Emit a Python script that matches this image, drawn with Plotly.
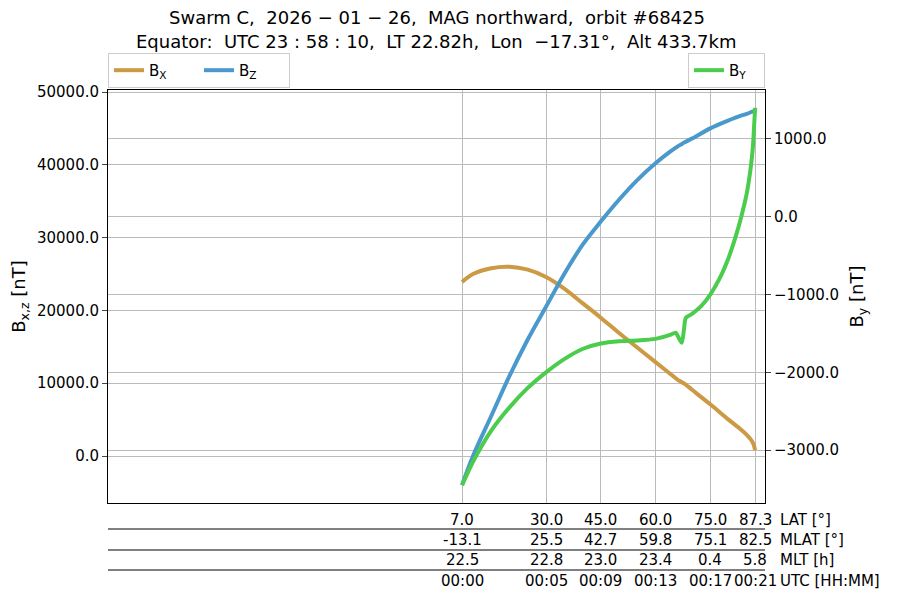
import plotly.graph_objects as go

# orbit samples (latitude in degrees)
lat = [7.0, 10, 15, 20, 25, 30, 35, 40, 45, 50, 55, 60, 64, 66, 67, 68, 70, 75, 80, 83, 85, 86.5, 87.0, 87.3]
bx = [23900, 25000, 25800, 26000, 25600, 24600, 23000, 21000, 19000, 16900, 14900, 12900, 11300, 10500, 10200, 9900, 9100, 7100, 5000, 3800, 2900, 2000, 1400, 800]
bz = [-4000, 0, 5500, 11000, 16000, 20500, 25000, 29000, 32200, 35200, 37900, 40200, 41800, 42500, 42800, 43100, 43600, 45000, 46100, 46700, 47000, 47300, 47400, 47500]
by_lat = [7.0, 10, 15, 20, 25, 30, 35, 40, 45, 50, 55, 60, 64, 65.5, 66.5, 67.2, 67.8, 68.3, 70, 72.5, 75, 77.5, 80, 82, 83.5, 85, 86, 86.7, 87.0, 87.3]
by = [-3450, -3150, -2750, -2450, -2200, -2000, -1830, -1700, -1630, -1600, -1590, -1570, -1520, -1490, -1570, -1620, -1450, -1300, -1250, -1150, -1000, -800, -530, -250, 0, 300, 600, 900, 1150, 1400]

# table below the plot
tick_lat = [7.0, 30.0, 45.0, 60.0, 75.0, 87.3]
mlat = ["-13.1", "25.5", "42.7", "59.8", "75.1", "82.5"]
mlt = ["22.5", "22.8", "23.0", "23.4", "0.4", "5.8"]
utc = ["00:00", "00:05", "00:09", "00:13", "00:17", "00:21"]
row_names = ["LAT [°]", "MLAT [°]", "MLT [h]", "UTC [HH:MM]"]

fig = go.Figure()
fig.add_trace(go.Scatter(x=lat, y=bx, name="B<sub>X</sub>", line=dict(color="#cc9944", width=4, shape="spline"), legend="legend"))
fig.add_trace(go.Scatter(x=lat, y=bz, name="B<sub>Z</sub>", line=dict(color="#4a99cc", width=4, shape="spline"), legend="legend"))
fig.add_trace(go.Scatter(x=by_lat, y=by, name="B<sub>Y</sub>", yaxis="y2", line=dict(color="#4ccc4c", width=4, shape="spline", smoothing=0.6), legend="legend2"))

font = dict(family="DejaVu Sans", size=15, color="black")
fig.update_layout(
    width=900, height=600, template="none", font=font,
    margin=dict(l=100, r=143, t=82, b=105),
    plot_bgcolor="white", paper_bgcolor="white",
    xaxis=dict(range=[-90, 90], tickvals=tick_lat, showticklabels=False, showgrid=True, gridcolor="#bbbbbb",
               showline=True, linecolor="black", mirror=True, zeroline=False, ticks="", automargin=False),
    yaxis=dict(range=[-6456, 50275], tickvals=[0, 10000, 20000, 30000, 40000, 50000], tickformat=".1f",
               title=dict(text="B<sub>x,z</sub> [nT]", standoff=12), showgrid=True, gridcolor="#bbbbbb",
               zeroline=False, ticks="outside", showline=True, linecolor="black", automargin=False),
    yaxis2=dict(range=[-3679, 1628], overlaying="y", side="right", tickvals=[-3000, -2000, -1000, 0, 1000],
                tickformat=".1f", title=dict(text="B<sub>y</sub> [nT]", standoff=12), showgrid=True, gridcolor="#bbbbbb",
                zeroline=False, ticks="outside", showline=True, linecolor="black", automargin=False),
    legend=dict(x=0.0, y=1.005, xanchor="left", yanchor="bottom", orientation="h", bordercolor="#cccccc", borderwidth=1,
                entrywidth=45, entrywidthmode="pixels", font=dict(size=15)),
    legend2=dict(x=1.0, y=1.005, xanchor="right", yanchor="bottom", orientation="h", bordercolor="#cccccc", borderwidth=1,
                 entrywidth=30, entrywidthmode="pixels", font=dict(size=15)),
)

title_lines = ["Swarm C,  2026 − 01 − 26,  MAG northward,  orbit #68425",
               "Equator:  UTC 23 : 58 : 10,  LT 22.82h,  Lon  −17.31°,  Alt 433.7km"]
for i, t in enumerate(title_lines):
    fig.add_annotation(x=0.5, y=1.0 + (85 - 24 * i) / 413, xref="paper", yref="paper", text=t, showarrow=False,
                       font=dict(family="DejaVu Sans", size=18, color="black"))

rows = [[f"{v:.1f}" for v in tick_lat], mlat, mlt, utc]
row_px = [531, 551, 571, 592]
for r, (vals, ypx) in enumerate(zip(rows, row_px)):
    yy = -(ypx - 503) / 413
    for xv, txt in zip(tick_lat, vals):
        fig.add_annotation(x=xv, y=yy, xref="x", yref="paper", text=txt, showarrow=False, font=font)
    fig.add_annotation(x=1.02, y=yy, xref="paper", yref="paper", text=row_names[r], showarrow=False,
                       xanchor="left", font=font)
for ypx in [529, 550, 570]:
    yy = -(ypx - 503) / 413
    fig.add_shape(type="line", xref="paper", yref="paper", x0=0, x1=1, y0=yy, y1=yy, line=dict(color="black", width=1))

fig.write_html("out.html")
